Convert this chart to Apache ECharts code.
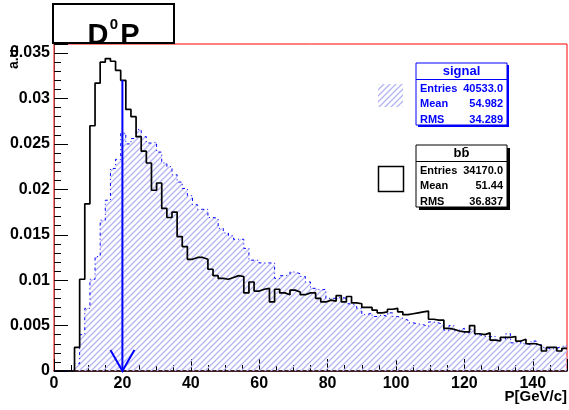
<!DOCTYPE html>
<html>
<head>
<meta charset="utf-8">
<script src="https://cdn.jsdelivr.net/npm/echarts@6/dist/echarts.min.js"></script>
<style>html,body{margin:0;padding:0;background:#fff;}#c{width:569px;height:410px;}</style>
</head>
<body>
<div id="c"></div>
<script>
// Histogram binning: 100 bins of 1.5 GeV/c from 0 to 150
const binWidth = 1.5;
// signal (blue, hatched) bin contents, normalised
const signalValues = [
0, 0, 0, 0.0002, 0.0008, 0.0040, 0.0069, 0.0101, 0.0126, 0.0166,
0.0188, 0.0223, 0.0233, 0.0262, 0.0250, 0.0256, 0.0266, 0.0258, 0.0251, 0.0252,
0.0241, 0.0229, 0.0225, 0.0216, 0.0208, 0.0201, 0.0193, 0.0183, 0.0178, 0.0178,
0.0169, 0.0168, 0.0157, 0.0152, 0.0149, 0.0145, 0.0145, 0.0135, 0.0122, 0.0122,
0.0119, 0.0119, 0.0119, 0.0102, 0.0105, 0.0106, 0.0109, 0.0107, 0.0104, 0.0098,
0.0091, 0.0089, 0.0090, 0.0080, 0.0080, 0.0081, 0.0080, 0.0074, 0.0072, 0.0069,
0.0062, 0.0064, 0.0060, 0.0062, 0.0060, 0.0064, 0.0060, 0.0058, 0.0056, 0.0053,
0.0052, 0.0051, 0.0049, 0.0054, 0.0053, 0.0051, 0.0045, 0.0050, 0.0045, 0.0047,
0.0042, 0.0046, 0.0040, 0.0038, 0.0038, 0.0038, 0.0034, 0.0035, 0.0041, 0.0031,
0.0033, 0.0030, 0.0029, 0.0033, 0.0029, 0.0026, 0.0024, 0.0025, 0.0027, 0.0028
];
// background bb (black outline) bin contents, normalised
const bkgValues = [
0, 0, 0, 0, 0.0026, 0.0101, 0.0184, 0.0270, 0.0317, 0.0340,
0.0344, 0.0341, 0.0331, 0.0320, 0.0288, 0.0280, 0.0258, 0.0242, 0.0229, 0.0199,
0.0207, 0.0179, 0.0169, 0.0175, 0.0148, 0.0137, 0.0123, 0.0125, 0.0125, 0.0123,
0.0112, 0.0105, 0.0102, 0.0101, 0.0103, 0.0105, 0.0104, 0.0086, 0.0098, 0.0088,
0.0090, 0.0091, 0.0076, 0.0090, 0.0086, 0.0084, 0.0089, 0.0087, 0.0084, 0.0086,
0.0086, 0.0080, 0.0076, 0.0078, 0.0077, 0.0083, 0.0076, 0.0082, 0.0075, 0.0074,
0.0070, 0.0070, 0.0067, 0.0064, 0.0065, 0.0068, 0.0069, 0.0065, 0.0062, 0.0063,
0.0064, 0.0065, 0.0066, 0.0057, 0.0056, 0.0056, 0.0047, 0.0046, 0.0044, 0.0043,
0.0043, 0.0050, 0.0041, 0.0040, 0.0042, 0.0034, 0.0033, 0.0037, 0.0037, 0.0038,
0.0033, 0.0035, 0.0030, 0.0030, 0.0028, 0.0022, 0.0026, 0.0026, 0.0022, 0.0025
];
// arrow marker (cut value)
const arrowPoint = [20, 0.032];
// stats boxes
const signalStats = {name: 'signal', entries: '40533.0', mean: '54.982', rms: '34.289'};
const bkgStats = {name: 'b\u0062\u0304', entries: '34170.0', mean: '51.44', rms: '36.837'};
const xMin = 0, xMax = 150, xInterval = 20;
const yMin = 0, yMax = 0.036, yInterval = 0.005;

function toSteps(vals) {
  const pts = vals.map((v, i) => [i * binWidth, v]);
  pts.push([vals.length * binWidth, vals[vals.length - 1]]);
  return pts;
}

// hatch pattern: soft diagonal lines "///"
const N = 6;
const cv = document.createElement('canvas');
cv.width = N; cv.height = N;
const cx = cv.getContext('2d');
cx.strokeStyle = '#b4b4f4';
cx.lineWidth = 1.3;
cx.beginPath();
cx.moveTo(0, N); cx.lineTo(N, 0);
cx.moveTo(-1, 1); cx.lineTo(1, -1);
cx.moveTo(N - 1, N + 1); cx.lineTo(N + 1, N - 1);
cx.stroke();
const hatch = {image: cv, repeat: 'repeat'};

const FONT = '"Liberation Sans", Arial, Helvetica, sans-serif';
const chart = echarts.init(document.getElementById('c'), null, {renderer: 'canvas'});

function statsBox(x, y, w, h, color, st, shadow) {
  const els = [];
  els.push({type: 'rect', z: 100, shape: {x: x + shadow, y: y + shadow, width: w, height: h}, style: {fill: color}});
  els.push({type: 'rect', z: 101, shape: {x: x, y: y, width: w, height: h}, style: {fill: '#fff', stroke: color, lineWidth: 1}});
  els.push({type: 'line', z: 102, shape: {x1: x, y1: y + 16.5, x2: x + w, y2: y + 16.5}, style: {stroke: color, lineWidth: 1}});
  els.push({type: 'text', z: 103, style: {text: st.name, x: x + w / 2, y: y + 8.5, font: 'bold 13px ' + FONT, fill: color, align: 'center', verticalAlign: 'middle'}});
  const rows = [['Entries', st.entries], ['Mean', st.mean], ['RMS', st.rms]];
  rows.forEach((r, i) => {
    const yy = y + 25.5 + i * 15.5;
    els.push({type: 'text', z: 103, style: {text: r[0], x: x + 4, y: yy, font: 'bold 11px ' + FONT, fill: color, align: 'left', verticalAlign: 'middle'}});
    els.push({type: 'text', z: 103, style: {text: r[1], x: x + w - 4, y: yy, font: 'bold 11px ' + FONT, fill: color, align: 'right', verticalAlign: 'middle'}});
  });
  return els;
}

const graphics = [
  // title box
  {type: 'rect', z: 100, shape: {x: 53, y: 4, width: 121, height: 39}, style: {fill: '#fff', stroke: '#000', lineWidth: 2}},
  {type: 'text', z: 101, style: {text: 'D', x: 98, y: 50, font: 'bold 29px ' + FONT, fill: '#000', align: 'center', verticalAlign: 'bottom'}},
  {type: 'text', z: 101, style: {text: '0', x: 114, y: 17, font: 'bold 15px ' + FONT, fill: '#000', align: 'center', verticalAlign: 'top'}},
  {type: 'text', z: 101, style: {text: 'P', x: 130, y: 50, font: 'bold 29px ' + FONT, fill: '#000', align: 'center', verticalAlign: 'bottom'}},
  // axis titles
  {type: 'text', z: 101, x: 14, y: 57, rotation: Math.PI / 2, style: {text: 'a.u.', x: 0, y: 0, font: 'bold 14px ' + FONT, fill: '#000', align: 'center', verticalAlign: 'middle'}},
  {type: 'text', z: 101, style: {text: 'P[GeV/c]', x: 567, y: 397, font: 'bold 15px ' + FONT, fill: '#000', align: 'right', verticalAlign: 'middle'}},
  // legend patches
  {type: 'rect', z: 100, shape: {x: 378, y: 84, width: 25, height: 23}, style: {fill: hatch}},
  {type: 'rect', z: 100, shape: {x: 378.5, y: 166.5, width: 25, height: 25}, style: {fill: 'none', stroke: '#000', lineWidth: 1.5}}
].concat(statsBox(416, 63, 91, 62, '#0000ff', signalStats, 2))
 .concat(statsBox(416, 145, 91, 62, '#000', bkgStats, 3));

const option = {
  animation: false,
  backgroundColor: '#fff',
  grid: {left: 54, right: 2, top: 44, bottom: 39, show: true, borderColor: '#ff0000', borderWidth: 1, backgroundColor: 'transparent'},
  xAxis: {
    type: 'value', min: xMin, max: xMax, interval: xInterval,
    axisLine: {show: true, onZero: false, lineStyle: {color: '#000', width: 1.5}},
    axisTick: {show: true, inside: true, length: 12, lineStyle: {color: '#000', width: 1}},
    minorTick: {show: true, splitNumber: 4, length: 6, lineStyle: {color: '#000', width: 1}},
    splitLine: {show: false},
    axisLabel: {show: true, showMaxLabel: false, margin: 5, color: '#000', fontWeight: 'bold', fontSize: 16, fontFamily: FONT}
  },
  yAxis: {
    type: 'value', min: yMin, max: yMax, interval: yInterval,
    axisLine: {show: true, onZero: false, lineStyle: {color: '#a03a3a', width: 1}},
    axisTick: {show: true, inside: true, length: 14, lineStyle: {color: '#000', width: 1}},
    minorTick: {show: true, splitNumber: 5, length: 7, lineStyle: {color: '#000', width: 1}},
    splitLine: {show: false},
    axisLabel: {show: true, showMaxLabel: false, margin: 4, color: '#000', fontWeight: 'bold', fontSize: 16, fontFamily: FONT}
  },
  series: [
    {
      name: 'signal', type: 'line', step: 'end', showSymbol: false, symbol: 'none',
      data: toSteps(signalValues), z: 2,
      lineStyle: {color: '#0000ff', width: 1, type: [3, 3, 1, 3]},
      areaStyle: {color: hatch, opacity: 1, origin: 'start'}
    },
    {
      name: 'bkg', type: 'line', step: 'end', showSymbol: false, symbol: 'none',
      data: toSteps(bkgValues), z: 3,
      lineStyle: {color: '#000', width: 1.7}
    },
    {
      name: 'arrow', type: 'custom', z: 4,
      data: [arrowPoint],
      renderItem: function (params, api) {
        const top = api.coord([api.value(0), api.value(1)]);
        const bot = api.coord([api.value(0), 0]);
        return {
          type: 'group',
          children: [
            {type: 'line', shape: {x1: top[0], y1: top[1], x2: bot[0], y2: bot[1]}, style: {stroke: '#0000ff', lineWidth: 2}},
            {type: 'polyline', shape: {points: [[bot[0] - 12, bot[1] - 21], [bot[0], bot[1]], [bot[0] + 12, bot[1] - 21]]}, style: {stroke: '#0000ff', lineWidth: 2, fill: 'none'}}
          ]
        };
      }
    }
  ],
  graphic: graphics
};
chart.setOption(option);
</script>
</body>
</html>
